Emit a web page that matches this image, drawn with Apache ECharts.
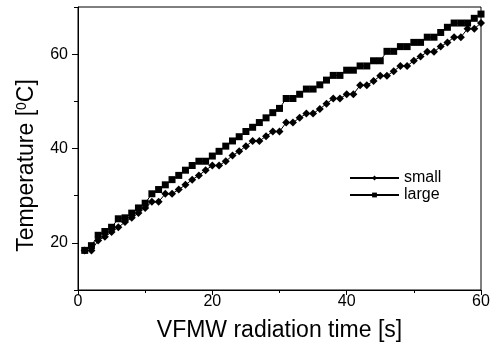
<!DOCTYPE html>
<html>
<head>
<meta charset="utf-8">
<script src="https://cdn.jsdelivr.net/npm/echarts@6/dist/echarts.min.js"></script>
<style>html,body{margin:0;padding:0;background:#fff}#c{width:493px;height:350px}</style>
</head>
<body>
<div id="c"></div>
<script>
var time = [1,2,3,4,5,6,7,8,9,10,11,12,13,14,15,16,17,18,19,20,21,22,23,24,25,26,27,28,29,30,31,32,33,34,35,36,37,38,39,40,41,42,43,44,45,46,47,48,49,50,51,52,53,54,55,56,57,58,59,60];
var small = [18.4,18.4,20.5,21.3,22.3,23.3,24.4,25.3,26.3,27.4,28.7,28.7,30.4,30.4,31.3,32.3,33.4,34.3,35.4,36.4,36.4,37.3,38.5,39.4,40.5,41.6,41.6,42.6,43.6,43.6,45.5,45.5,46.5,47.4,47.4,48.4,49.5,50.6,50.6,51.5,51.5,53.4,53.4,54.3,55.4,55.4,56.4,57.5,57.5,58.6,59.5,60.5,60.5,61.6,62.5,63.6,63.6,65.4,65.4,66.6];
var large = [18.4,19.4,21.6,22.4,23.3,25.1,25.3,26.3,27.4,28.4,30.4,31.3,32.3,33.4,34.3,35.4,36.4,37.3,37.3,38.4,39.4,40.5,41.6,42.5,43.6,44.5,45.5,46.5,47.6,48.5,50.6,50.6,51.5,52.6,52.6,53.5,54.5,55.5,55.5,56.6,56.6,57.5,57.5,58.6,58.6,60.6,60.6,61.6,61.6,62.5,62.5,63.6,63.6,64.6,65.7,66.6,66.6,66.6,67.6,68.5];
var xMajor = [0,20,40,60];
var xMinor = [10,30,50];
var yMajor = [20,40,60];
var yMinor = [10,30,50,70];

function pairs(xs, ys){ return xs.map(function(x,i){ return [x, ys[i]]; }); }

var font = 'Liberation Sans, Arial, sans-serif';
var chart = echarts.init(document.getElementById('c'), null, {renderer:'canvas'});
chart.setOption({
  animation: false,
  backgroundColor: '#fff',
  grid: {left: 78, right: 12, top: 7, bottom: 60, show: true, borderColor: '#000', borderWidth: 1},
  legend: {
    orient: 'vertical', left: 344, top: 165, itemGap: 1,
    itemWidth: 49, itemHeight: 6,
    textStyle: {fontFamily: font, fontSize: 16, color: '#000'},
    data: ['small','large']
  },
  xAxis: [{
    type: 'value', min: 0, max: 60,
    name: 'VFMW radiation time [s]', nameLocation: 'middle', nameGap: 29,
    nameTextStyle: {fontFamily: font, fontSize: 23, color: '#000'},
    axisLine: {show: true, lineStyle: {color: '#000', width: 1}},
    axisTick: {show: true, customValues: xMajor, length: 5, inside: false, lineStyle: {color: '#000'}},
    axisLabel: {customValues: xMajor, fontFamily: font, fontSize: 16, color: '#000', margin: 4},
    splitLine: {show: false}
  },{
    type: 'value', min: 0, max: 60, position: 'bottom',
    axisLine: {show: false},
    axisTick: {show: true, customValues: xMinor, length: 3, lineStyle: {color: '#000'}},
    axisLabel: {show: false}, splitLine: {show: false}
  }],
  yAxis: [{
    type: 'value', min: 10, max: 70,
    name: 'Temperature [{sup|0}C]', nameLocation: 'middle', nameGap: 40, nameRotate: 90,
    nameTextStyle: {fontFamily: font, fontSize: 23, color: '#000', padding: [0, 34, 0, 0],
      rich: {sup: {fontFamily: font, fontSize: 14, color: '#000', verticalAlign: 'top', padding: [0,0,8,0]}}},
    axisLine: {show: true, lineStyle: {color: '#000', width: 1}},
    axisTick: {show: true, customValues: yMajor, length: 6, lineStyle: {color: '#000'}},
    axisLabel: {customValues: yMajor, fontFamily: font, fontSize: 16, color: '#000', margin: 10},
    splitLine: {show: false}
  },{
    type: 'value', min: 10, max: 70, position: 'left',
    axisLine: {show: false},
    axisTick: {show: true, customValues: yMinor, length: 4, lineStyle: {color: '#000'}},
    axisLabel: {show: false}, splitLine: {show: false}
  }],
  series: [{
    name: 'small', type: 'line', xAxisIndex: 0, yAxisIndex: 0,
    data: pairs(time, small),
    symbol: 'diamond', symbolSize: 8,
    itemStyle: {color: '#000'}, lineStyle: {color: '#000', width: 1}
  },{
    name: 'large', type: 'line', xAxisIndex: 0, yAxisIndex: 0,
    data: pairs(time, large),
    symbol: 'rect', symbolSize: 7,
    itemStyle: {color: '#000'}, lineStyle: {color: '#000', width: 1}
  }]
});
</script>
</body>
</html>
